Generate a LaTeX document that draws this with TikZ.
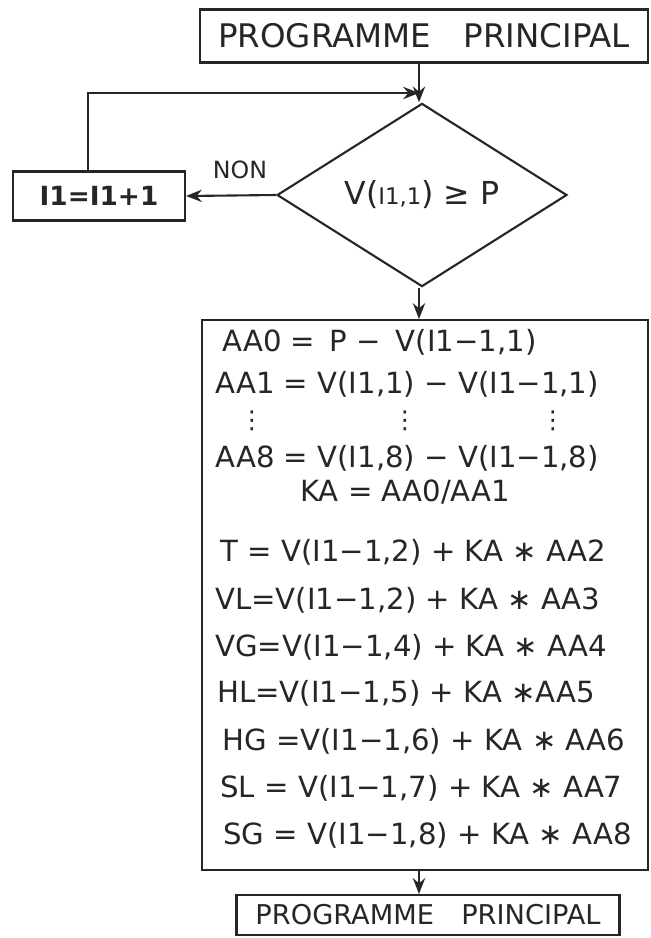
\documentclass[tikz,border=0pt]{standalone}
\usepackage{fontspec}
\setmainfont{DejaVu Sans}
\usetikzlibrary{shapes.geometric,arrows.meta}

\tikzset{
  box/.style={draw,line width=1.2pt,inner sep=0pt},
  flow/.style={line width=1.2pt,-{Stealth[length=9pt,width=7pt]}},
  eqline/.style={anchor=west,inner sep=0pt,font=\fontsize{16.6}{20}\selectfont},
  vdots/.style={inner sep=0pt,font=\fontsize{14}{16}\selectfont},
}

\begin{document}
\begin{tikzpicture}[x=0.02cm,y=-0.02cm,black!85]
\useasboundingbox[fill=white] (0,0) rectangle (651,938);
\node[box,minimum width=8.96cm,minimum height=1.06cm,font=\fontsize{18.5}{22}\selectfont] (start) at (424,36) {PROGRAMME\quad PRINCIPAL};
\node[box,diamond,minimum width=5.8cm,minimum height=2.9cm,font=\fontsize{18}{22}\selectfont] (test) at (422,195) {V({\fontsize{13}{15}\selectfont I1,1}) ≥ P};
\node[box,minimum width=3.44cm,minimum height=0.98cm,font=\bfseries\fontsize{15}{18}\selectfont] (incr) at (99,196) {I1=I1+1};
\node[box,minimum width=8.92cm,minimum height=11cm] (calc) at (425,595) {};
\node[box,minimum width=7.66cm,minimum height=0.8cm,font=\fontsize{15.5}{18}\selectfont] (stop) at (428,915) {PROGRAMME\quad PRINCIPAL};
\coordinate (join) at (419,93);
\draw[flow] (start.south -| join) -- (join |- test.north);
\draw[flow] ([xshift=-0.22cm]incr.north) |- (join);
\draw[flow] (test.west) -- (incr.east) node[pos=0.4,above=0.2cm,font=\fontsize{13.5}{16}\selectfont] (non) {NON};
\draw[flow] (test.south -| join) -- (join |- calc.north);
\draw[flow] (join |- calc.south) -- (join |- stop.north);
\node[eqline] (aa0) at (222,342) {AA0 =\enspace P −\enspace V(I1−1,1)};
\node[eqline] (aa1) at (215,384) {AA1 = V(I1,1) − V(I1−1,1)};
\foreach \x in {252,405,553} {\node[vdots] (dots\x) at (\x,421) {⋮};}
\node[eqline] (aa8) at (215,458) {AA8 = V(I1,8) − V(I1−1,8)};
\node[eqline] (ka) at (300,492) {KA = AA0/AA1};
\node[eqline] (t) at (220,552) {T = V(I1−1,2) + KA ∗ AA2};
\node[eqline] (vl) at (215,600) {VL=V(I1−1,2) + KA ∗ AA3};
\node[eqline] (vg) at (215,647) {VG=V(I1−1,4) + KA ∗ AA4};
\node[eqline] (hl) at (217,693) {HL=V(I1−1,5) + KA ∗AA5};
\node[eqline] (hg) at (222,741) {HG =V(I1−1,6) + KA ∗ AA6};
\node[eqline] (sl) at (220,788) {SL = V(I1−1,7) + KA ∗ AA7};
\node[eqline] (sg) at (223,835) {SG = V(I1−1,8) + KA ∗ AA8};
\end{tikzpicture}
\end{document}
